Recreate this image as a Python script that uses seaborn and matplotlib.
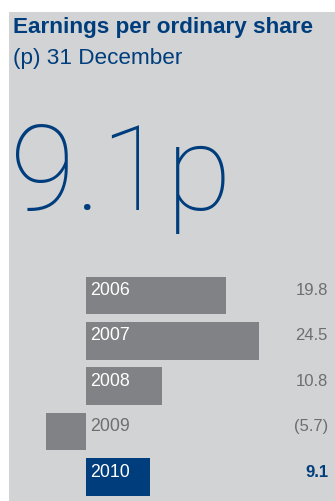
import matplotlib
matplotlib.use("Agg")
import matplotlib.pyplot as plt
import matplotlib.transforms as mtransforms
from matplotlib.patches import Rectangle
import seaborn as sns
import pandas as pd

# ---- data ----
years = ["2006", "2007", "2008", "2009", "2010"]
eps_values = [19.8, 24.5, 10.8, -5.7, 9.1]
value_labels = ["19.8", "24.5", "10.8", "(5.7)", "9.1"]
title = "Earnings per ordinary share"
subtitle = "(p) 31 December"
headline = "9.1p"

# ---- styles ----
PANEL = "#d1d3d4"
GREY_BAR = "#808285"
BLUE = "#003d7c"
TEXT_GREY = "#6d6e71"

W, H = 335, 501
DPI = 100

sns.set_theme(style="white")
plt.rcParams["font.family"] = ["Liberation Sans", "DejaVu Sans"]

fig = plt.figure(figsize=(W / DPI, H / DPI), dpi=DPI, facecolor="white")

def fx(px):
    return px / W

def fy(py):
    return 1 - py / H

# background panel
fig.patches.append(Rectangle((fx(9), 0), 1 - fx(9), fy(12), transform=fig.transFigure,
                             facecolor=PANEL, edgecolor="none", zorder=-5))

fig.text(fx(13), fy(33), title, fontsize=16.2, fontweight="bold", color=BLUE,
         ha="left", va="baseline")
fig.text(fx(13), fy(64), subtitle, fontsize=16.2, color=BLUE,
         ha="left", va="baseline")
fig.text(fx(10), fy(210), headline, fontsize=86, color=BLUE, ha="left", va="baseline",
         family=["Roboto", "DejaVu Sans"], fontweight="light")

# ---- bars ----
step = 45.4
top_px = 295.5 - step / 2
bot_px = 477.0 + step / 2
ax = fig.add_axes([fx(9), (H - bot_px) / H, 1 - fx(9), (bot_px - top_px) / H])
ax.set_facecolor("none")

df = pd.DataFrame({"year": years, "eps": eps_values})
palette = {y: GREY_BAR for y in years}
palette["2010"] = BLUE
sns.barplot(data=df, x="eps", y="year", hue="year", palette=palette, orient="h",
            width=0.83, legend=False, ax=ax, saturation=1, edgecolor="none")

ppu = 7.07
ax.set_xlim((9 - 86) / ppu, (335 - 86) / ppu)
ax.set_ylim(len(years) - 0.5, -0.5)
ax.axis("off")

trans_val = mtransforms.blended_transform_factory(ax.transAxes, ax.transData)
for i, (yr, v, lab) in enumerate(zip(years, eps_values, value_labels)):
    ycol = "white" if v > 0 else TEXT_GREY
    ax.text(4 / ppu, i - 0.01, yr, color=ycol, fontsize=12.8, ha="left", va="baseline")
    is_last = (i == len(years) - 1)
    ax.text((328 - 9) / (335 - 9), i - 0.01, lab, transform=trans_val,
            color=BLUE if is_last else TEXT_GREY,
            fontweight="bold" if is_last else "normal",
            fontsize=12, ha="right", va="baseline")

fig.savefig("out.png", dpi=DPI, facecolor="white")
